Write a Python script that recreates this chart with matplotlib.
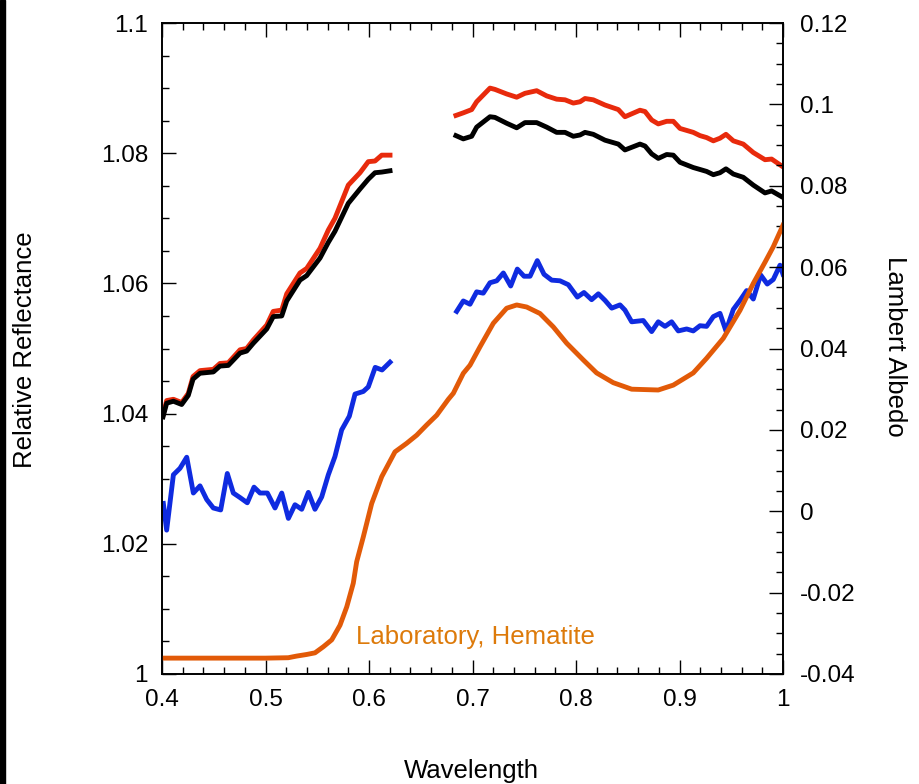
import matplotlib.pyplot as plt
from matplotlib.ticker import MultipleLocator
from matplotlib.patches import Rectangle

plt.rcParams['font.family'] = ['Liberation Sans', 'DejaVu Sans']

# short-wavelength segment (relative reflectance)
wl_a = [0.401, 0.4045, 0.411, 0.419, 0.4254, 0.430, 0.4367, 0.4496, 0.456, 0.464,
        0.4754, 0.4818, 0.4882, 0.5012, 0.5075, 0.5157, 0.5205, 0.5333, 0.5398,
        0.5527, 0.5607, 0.5671, 0.580, 0.5913, 0.5993, 0.6058, 0.6123, 0.6203]
red_a = [1.0398, 1.0420, 1.0422, 1.0417, 1.0431, 1.0457, 1.0466, 1.0468, 1.0477, 1.0478,
         1.0498, 1.0500, 1.0513, 1.0536, 1.0557, 1.0559, 1.0584, 1.0616, 1.0623,
         1.0654, 1.0682, 1.0700, 1.0751, 1.0770, 1.0787, 1.0788, 1.0797, 1.0797]
black_a = [1.0395, 1.0416, 1.0419, 1.0414, 1.0428, 1.0453, 1.0462, 1.0464, 1.0473, 1.0474,
           1.0493, 1.0496, 1.0508, 1.0530, 1.0549, 1.0550, 1.0573, 1.0605, 1.0612,
           1.0639, 1.0663, 1.0680, 1.0723, 1.0745, 1.0760, 1.0770, 1.0771, 1.0773]

# long-wavelength segment
wl_b = [0.684, 0.6911, 0.6992, 0.704, 0.7169, 0.7217, 0.733, 0.7427, 0.7507, 0.762,
        0.7717, 0.7813, 0.7894, 0.7974, 0.8039, 0.8087, 0.8167, 0.828, 0.8409, 0.8473,
        0.8618, 0.8667, 0.8731, 0.8795, 0.8876, 0.894, 0.9005, 0.9133, 0.9198, 0.9262,
        0.9327, 0.9391, 0.9449, 0.952, 0.9616, 0.9713, 0.9826, 0.989, 1.0]
red_b = [1.0858, 1.0862, 1.0867, 1.0879, 1.0900, 1.0898, 1.0891, 1.0886, 1.0892, 1.0896,
         1.0888, 1.0883, 1.0882, 1.0877, 1.0879, 1.0884, 1.0882, 1.0874, 1.0867, 1.0856,
         1.0866, 1.0864, 1.0851, 1.0845, 1.0849, 1.0849, 1.0838, 1.0832, 1.0827, 1.0824,
         1.0819, 1.0823, 1.0829, 1.0819, 1.0814, 1.0801, 1.0790, 1.0791, 1.0779]
black_b = [1.0827, 1.0822, 1.0826, 1.0840, 1.0856, 1.0855, 1.0846, 1.0839, 1.0847, 1.0847,
           1.0840, 1.0832, 1.0832, 1.0826, 1.0828, 1.0832, 1.0829, 1.0820, 1.0814, 1.0805,
           1.0814, 1.0811, 1.0799, 1.0792, 1.0798, 1.0797, 1.0786, 1.0778, 1.0775, 1.0772,
           1.0767, 1.0770, 1.0776, 1.0768, 1.0763, 1.0751, 1.0739, 1.0742, 1.0732]

wl_blue_a = [0.4013, 0.4045, 0.411, 0.4174, 0.4239, 0.4303, 0.4367, 0.4432, 0.4496, 0.4567,
             0.4631, 0.4689, 0.4754, 0.4824, 0.4889, 0.4947, 0.5018, 0.5092, 0.5157, 0.5221,
             0.5285, 0.535, 0.5414, 0.5478, 0.5543, 0.5607, 0.5671, 0.5736, 0.581, 0.5865,
             0.5945, 0.5993, 0.606, 0.6126, 0.6203]
blue_a = [1.0262, 1.0221, 1.0306, 1.0316, 1.0333, 1.0278, 1.0289, 1.0268, 1.0255, 1.0252,
          1.0308, 1.0278, 1.0271, 1.0263, 1.0287, 1.0278, 1.0278, 1.0255, 1.0278, 1.0239,
          1.0260, 1.0253, 1.0279, 1.0253, 1.0272, 1.0306, 1.0334, 1.0375, 1.0396, 1.0430,
          1.0434, 1.0441, 1.0471, 1.0467, 1.0479]

wl_blue_b = [0.6847, 0.6911, 0.6976, 0.704, 0.7104, 0.7169, 0.7234, 0.7298, 0.7369, 0.7433,
             0.7498, 0.7556, 0.7626, 0.7691, 0.7765, 0.7845, 0.7926, 0.8013, 0.8077, 0.8151,
             0.8216, 0.828, 0.8345, 0.8425, 0.8473, 0.8538, 0.865, 0.8731, 0.8795, 0.886,
             0.8924, 0.8988, 0.9069, 0.9133, 0.9198, 0.9262, 0.9327, 0.9391, 0.9449, 0.952,
             0.9585, 0.9649, 0.9713, 0.9784, 0.9848, 0.9906, 0.9971, 1.0]
blue_b = [1.0557, 1.0573, 1.0568, 1.0587, 1.0585, 1.0601, 1.0604, 1.0616, 1.0596, 1.0622,
          1.0611, 1.0611, 1.0635, 1.0614, 1.0605, 1.0604, 1.0598, 1.0579, 1.0586, 1.0575,
          1.0584, 1.0574, 1.0562, 1.0567, 1.0559, 1.0541, 1.0543, 1.0526, 1.0541, 1.0534,
          1.0541, 1.0527, 1.0530, 1.0527, 1.0535, 1.0534, 1.0549, 1.0554, 1.0527, 1.0560,
          1.0574, 1.0589, 1.0576, 1.0613, 1.0599, 1.0606, 1.0628, 1.0614]

# laboratory hematite (Lambert albedo, right axis)
wl_lab = [0.400, 0.450, 0.500, 0.522, 0.530, 0.5398, 0.5478, 0.5559, 0.564, 0.572,
          0.5785, 0.5848, 0.5881, 0.5945, 0.6026, 0.6123, 0.6251, 0.6364, 0.6461, 0.6557,
          0.6654, 0.6766, 0.6815, 0.6911, 0.6976, 0.7072, 0.7201, 0.733, 0.7427, 0.7523,
          0.7652, 0.7781, 0.791, 0.807, 0.8199, 0.836, 0.8538, 0.8795, 0.894, 0.9133,
          0.9262, 0.9423, 0.9585, 0.9713, 0.9826, 0.9906, 1.0]
lab = [-0.0361, -0.0361, -0.0361, -0.0360, -0.0356, -0.0352, -0.0348, -0.0333, -0.0316, -0.0280,
       -0.0235, -0.0177, -0.0124, -0.0063, 0.0019, 0.0085, 0.0146, 0.0167, 0.0187, 0.0212,
       0.0236, 0.0275, 0.0290, 0.0339, 0.0359, 0.0404, 0.0462, 0.0499, 0.0507, 0.0502,
       0.0486, 0.0453, 0.0413, 0.0372, 0.0340, 0.0316, 0.0300, 0.0298, 0.0310, 0.0340,
       0.0376, 0.0425, 0.0494, 0.0560, 0.0612, 0.0650, 0.0703]

RED = '#E82A0C'
BLUE = '#0F2BE0'
ORANGE = '#E25A08'
LABEL_ORANGE = '#DD7A0A'

fig = plt.figure(figsize=(9.19, 7.84), dpi=100)
ax = fig.add_axes([162 / 919, 1 - 674 / 784, 621 / 919, 651 / 784])
ax2 = ax.twinx()

lw = 3.5
ax.plot(wl_a, red_a, color=RED, lw=lw)
ax.plot(wl_a, black_a, color='black', lw=lw)
ax.plot(wl_b, red_b, color=RED, lw=lw)
ax.plot(wl_b, black_b, color='black', lw=lw)
ax.plot(wl_blue_a, blue_a, color=BLUE, lw=lw)
ax.plot(wl_blue_b, blue_b, color=BLUE, lw=lw)
ax2.plot(wl_lab, lab, color=ORANGE, lw=lw)

ax.set_xlim(0.4, 1.0)
ax.set_ylim(1.0, 1.1)
ax2.set_ylim(-0.04, 0.12)

ax.xaxis.set_minor_locator(MultipleLocator(0.02))
ax.yaxis.set_minor_locator(MultipleLocator(0.005))
ax2.yaxis.set_minor_locator(MultipleLocator(0.005))

fs = 18.5
tfs = 17.5
ax.set_xticks([0.4, 0.5, 0.6, 0.7, 0.8, 0.9, 1.0])
ax.set_xticklabels(['0.4', '0.5', '0.6', '0.7', '0.8', '0.9', '1'])
ax.set_yticks([1.0, 1.02, 1.04, 1.06, 1.08, 1.1])
ax.set_yticklabels(['1', '1.02', '1.04', '1.06', '1.08', '1.1'])
ax2.set_yticks([-0.04, -0.02, 0, 0.02, 0.04, 0.06, 0.08, 0.1, 0.12])
ax2.set_yticklabels(['-0.04', '-0.02', '0', '0.02', '0.04', '0.06', '0.08', '0.1', '0.12'])

ax.tick_params(axis='x', which='both', direction='in', top=True, labelsize=tfs, pad=11)
ax.tick_params(axis='y', which='both', direction='in', right=False, labelsize=tfs, pad=10)
ax2.tick_params(axis='y', which='both', direction='in', labelsize=tfs, pad=12)
for a in (ax, ax2):
    a.tick_params(which='major', length=10, width=1)
    a.tick_params(which='minor', length=5, width=1)
    for s in a.spines.values():
        s.set_linewidth(1.2)

ax.set_xlabel('Wavelength', fontsize=fs)
ax.xaxis.set_label_coords(0.499, -0.131)
ax.set_ylabel('Relative Reflectance', fontsize=fs, va='center')
ax.yaxis.set_label_coords(-0.22, 0.498)
ax2.set_ylabel('Lambert Albedo', fontsize=fs, rotation=270, va='center')
ax2.yaxis.set_label_coords(1.18, 0.504)

ax2.text(0.5875, -0.0308, 'Laboratory, Hematite', color=LABEL_ORANGE, fontsize=fs,
         ha='left', va='center')

fig.patches.append(Rectangle((0, 0), 5 / 919, 1, transform=fig.transFigure,
                             color='black', zorder=10))

fig.savefig('out.png', dpi=100)
